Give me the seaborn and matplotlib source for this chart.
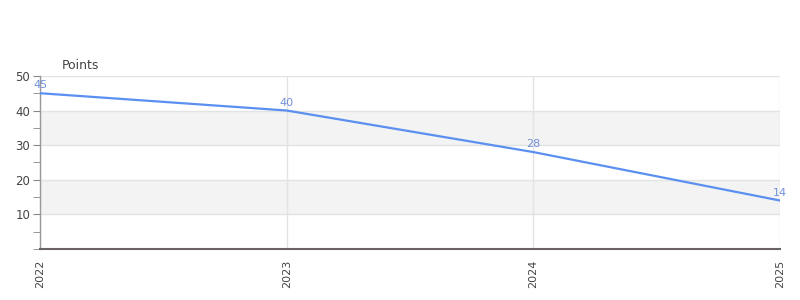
import matplotlib
matplotlib.use("Agg")
import matplotlib.pyplot as plt
import seaborn as sns
import pandas as pd
from matplotlib.ticker import MultipleLocator

years = [2022, 2023, 2024, 2025]
points = [45, 40, 28, 14]
year_labels = ["2022", "2023", "2024", "2025"]

df = pd.DataFrame({"year": years, "points": points})

sns.set_style("white")
plt.rcParams['font.family'] = ['DejaVu Sans']

fig = plt.figure(figsize=(8, 3), dpi=100)
ax = fig.add_axes([0.05, 0.17, 0.925, 0.577])

# alternating bands
for lo, hi in [(10, 20), (30, 40)]:
    ax.axhspan(lo, hi, color="#f3f3f3", zorder=0, lw=0)

sns.lineplot(data=df, x="year", y="points", ax=ax, color="#5b8ff0", linewidth=1.6, zorder=3)

for x, y in zip(years, points):
    ax.annotate(str(y), (x, y), xytext=(0, 2), textcoords="offset points",
                ha="center", va="bottom", color="#7090d8", fontsize=8, zorder=4)

ax.set_xlim(2022, 2025)
ax.set_ylim(0, 50)
ax.set_xticks(years)
ax.set_xticklabels(year_labels, rotation=90)
ax.set_yticks([10, 20, 30, 40, 50])
ax.yaxis.set_minor_locator(MultipleLocator(5))
ax.tick_params(axis="y", which="both", left=True, length=5, color="#888888", labelsize=8.5, labelcolor="#444444", pad=2)
ax.tick_params(axis="x", length=0, labelsize=8, labelcolor="#444444", pad=8)

ax.grid(True, axis="both", which="major", color="#e3e3e3", linewidth=1, zorder=1)
ax.set_axisbelow(True)

for s in ["top", "right"]:
    ax.spines[s].set_visible(False)
ax.spines["left"].set_color("#999999")
ax.spines["left"].set_linewidth(1)
ax.spines["bottom"].set_color("#666666")
ax.spines["bottom"].set_linewidth(1.5)
ax.axhline(0, color="#d62020", linewidth=0.8, zorder=5)

ax.set_xlabel("")
ax.set_ylabel("")
ax.text(0.03, 1.02, "Points", transform=ax.transAxes, ha="left", va="bottom",
        fontsize=9, color="#444444")

fig.savefig("out.png", dpi=100)
